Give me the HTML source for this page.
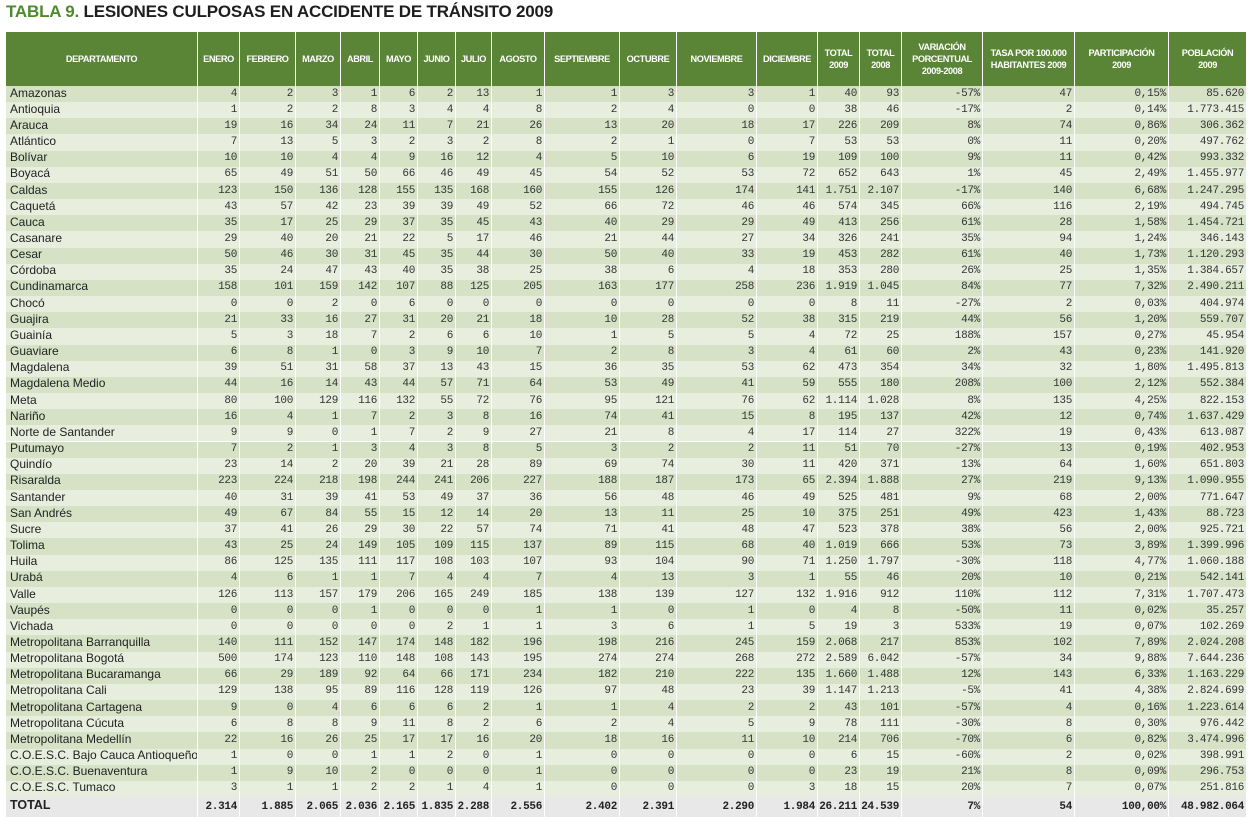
<!DOCTYPE html>
<html><head><meta charset="utf-8">
<style>
html,body{margin:0;padding:0;background:#fff;width:1251px;height:822px;overflow:hidden;font-family:"Liberation Sans",sans-serif;position:relative}
#title{position:absolute;left:6px;top:2px;font-size:17px;font-weight:bold;color:#1e1e1e;letter-spacing:-0.2px;white-space:nowrap}
#title span{color:#4f8a2e}
.row{position:absolute;left:6px;width:1241px;display:flex}
.c{box-sizing:border-box;border-right:1px solid #fff;display:flex;align-items:center;justify-content:flex-end;padding:0 2px;white-space:nowrap;overflow:hidden;font-family:"Liberation Mono",monospace;font-size:11px;letter-spacing:-0.3px;color:#333;line-height:1}
.c.n{justify-content:flex-start;font-family:"Liberation Sans",sans-serif;font-size:12px;letter-spacing:0;color:#222;padding-left:4px;padding-bottom:3px}
.hdr{top:32px;height:54px}
.hdr .c{background:#5a8536;color:#fff;font-family:"Liberation Sans",sans-serif;font-size:9.2px;font-weight:bold;letter-spacing:-0.4px;line-height:12px;justify-content:center;text-align:center;padding:0 1px;white-space:normal}
.o .c{background:#d6e1c6}
.e .c{background:#e7eedd}
.t .c{background:#e8e8e8;font-weight:bold;color:#222}
.t .c.n{font-size:12.5px}
</style></head><body>
<div id="title"><span>TABLA 9.</span> LESIONES CULPOSAS EN ACCIDENTE DE TRÁNSITO 2009</div>
<div id="tbl"></div>
<script>
const widths = [192,42,56,45,39,38,38,36,53,75,57,80,61,42,42,81,92,94,78];
const headers = ["DEPARTAMENTO","ENERO","FEBRERO","MARZO","ABRIL","MAYO","JUNIO","JULIO","AGOSTO","SEPTIEMBRE","OCTUBRE","NOVIEMBRE","DICIEMBRE","TOTAL<br>2009","TOTAL<br>2008","VARIACIÓN<br>PORCENTUAL<br>2009-2008","TASA POR 100.000<br>HABITANTES 2009","PARTICIPACIÓN<br>2009","POBLACIÓN<br>2009"];
const rows = [
"Amazonas|4 2 3 1 6 2 13 1 1 3 3 1 40 93 -57% 47 0,15% 85.620",
"Antioquia|1 2 2 8 3 4 4 8 2 4 0 0 38 46 -17% 2 0,14% 1.773.415",
"Arauca|19 16 34 24 11 7 21 26 13 20 18 17 226 209 8% 74 0,86% 306.362",
"Atlántico|7 13 5 3 2 3 2 8 2 1 0 7 53 53 0% 11 0,20% 497.762",
"Bolívar|10 10 4 4 9 16 12 4 5 10 6 19 109 100 9% 11 0,42% 993.332",
"Boyacá|65 49 51 50 66 46 49 45 54 52 53 72 652 643 1% 45 2,49% 1.455.977",
"Caldas|123 150 136 128 155 135 168 160 155 126 174 141 1.751 2.107 -17% 140 6,68% 1.247.295",
"Caquetá|43 57 42 23 39 39 49 52 66 72 46 46 574 345 66% 116 2,19% 494.745",
"Cauca|35 17 25 29 37 35 45 43 40 29 29 49 413 256 61% 28 1,58% 1.454.721",
"Casanare|29 40 20 21 22 5 17 46 21 44 27 34 326 241 35% 94 1,24% 346.143",
"Cesar|50 46 30 31 45 35 44 30 50 40 33 19 453 282 61% 40 1,73% 1.120.293",
"Córdoba|35 24 47 43 40 35 38 25 38 6 4 18 353 280 26% 25 1,35% 1.384.657",
"Cundinamarca|158 101 159 142 107 88 125 205 163 177 258 236 1.919 1.045 84% 77 7,32% 2.490.211",
"Chocó|0 0 2 0 6 0 0 0 0 0 0 0 8 11 -27% 2 0,03% 404.974",
"Guajira|21 33 16 27 31 20 21 18 10 28 52 38 315 219 44% 56 1,20% 559.707",
"Guainía|5 3 18 7 2 6 6 10 1 5 5 4 72 25 188% 157 0,27% 45.954",
"Guaviare|6 8 1 0 3 9 10 7 2 8 3 4 61 60 2% 43 0,23% 141.920",
"Magdalena|39 51 31 58 37 13 43 15 36 35 53 62 473 354 34% 32 1,80% 1.495.813",
"Magdalena Medio|44 16 14 43 44 57 71 64 53 49 41 59 555 180 208% 100 2,12% 552.384",
"Meta|80 100 129 116 132 55 72 76 95 121 76 62 1.114 1.028 8% 135 4,25% 822.153",
"Nariño|16 4 1 7 2 3 8 16 74 41 15 8 195 137 42% 12 0,74% 1.637.429",
"Norte de Santander|9 9 0 1 7 2 9 27 21 8 4 17 114 27 322% 19 0,43% 613.087",
"Putumayo|7 2 1 3 4 3 8 5 3 2 2 11 51 70 -27% 13 0,19% 402.953",
"Quindío|23 14 2 20 39 21 28 89 69 74 30 11 420 371 13% 64 1,60% 651.803",
"Risaralda|223 224 218 198 244 241 206 227 188 187 173 65 2.394 1.888 27% 219 9,13% 1.090.955",
"Santander|40 31 39 41 53 49 37 36 56 48 46 49 525 481 9% 68 2,00% 771.647",
"San Andrés|49 67 84 55 15 12 14 20 13 11 25 10 375 251 49% 423 1,43% 88.723",
"Sucre|37 41 26 29 30 22 57 74 71 41 48 47 523 378 38% 56 2,00% 925.721",
"Tolima|43 25 24 149 105 109 115 137 89 115 68 40 1.019 666 53% 73 3,89% 1.399.996",
"Huila|86 125 135 111 117 108 103 107 93 104 90 71 1.250 1.797 -30% 118 4,77% 1.060.188",
"Urabá|4 6 1 1 7 4 4 7 4 13 3 1 55 46 20% 10 0,21% 542.141",
"Valle|126 113 157 179 206 165 249 185 138 139 127 132 1.916 912 110% 112 7,31% 1.707.473",
"Vaupés|0 0 0 1 0 0 0 1 1 0 1 0 4 8 -50% 11 0,02% 35.257",
"Vichada|0 0 0 0 0 2 1 1 3 6 1 5 19 3 533% 19 0,07% 102.269",
"Metropolitana Barranquilla|140 111 152 147 174 148 182 196 198 216 245 159 2.068 217 853% 102 7,89% 2.024.208",
"Metropolitana Bogotá|500 174 123 110 148 108 143 195 274 274 268 272 2.589 6.042 -57% 34 9,88% 7.644.236",
"Metropolitana Bucaramanga|66 29 189 92 64 66 171 234 182 210 222 135 1.660 1.488 12% 143 6,33% 1.163.229",
"Metropolitana Cali|129 138 95 89 116 128 119 126 97 48 23 39 1.147 1.213 -5% 41 4,38% 2.824.699",
"Metropolitana Cartagena|9 0 4 6 6 6 2 1 1 4 2 2 43 101 -57% 4 0,16% 1.223.614",
"Metropolitana Cúcuta|6 8 8 9 11 8 2 6 2 4 5 9 78 111 -30% 8 0,30% 976.442",
"Metropolitana Medellín|22 16 26 25 17 17 16 20 18 16 11 10 214 706 -70% 6 0,82% 3.474.996",
"C.O.E.S.C. Bajo Cauca Antioqueño|1 0 0 1 1 2 0 1 0 0 0 0 6 15 -60% 2 0,02% 398.991",
"C.O.E.S.C. Buenaventura|1 9 10 2 0 0 0 1 0 0 0 0 23 19 21% 8 0,09% 296.753",
"C.O.E.S.C. Tumaco|3 1 1 2 2 1 4 1 0 0 0 3 18 15 20% 7 0,07% 251.816"
];
const totalRow = "TOTAL|2.314 1.885 2.065 2.036 2.165 1.835 2.288 2.556 2.402 2.391 2.290 1.984 26.211 24.539 7% 54 100,00% 48.982.064";
const tbl = document.getElementById('tbl');
function mkRow(cls, top, h){
  const r = document.createElement('div');
  r.className = 'row ' + cls;
  r.style.top = top + 'px';
  r.style.height = h + 'px';
  tbl.appendChild(r);
  return r;
}
function mkCell(r, i, cls){
  const c = document.createElement('div');
  c.className = 'c' + (cls ? ' ' + cls : '');
  c.style.width = widths[i] + 'px';
  r.appendChild(c);
  return c;
}
const hr = mkRow('hdr', 32, 54);


headers.forEach((h,i) => {
  const c = mkCell(hr, i);
  c.innerHTML = h;
  
  
});
function addRow(str, cls, top, h){
  const [name, vals] = str.split('|');
  const r = mkRow(cls, top, h);
  
  
  mkCell(r, 0, 'n').textContent = name;
  vals.split(' ').forEach((v,i) => { mkCell(r, i+1).textContent = v; });
}
const pitch = (797 - 86) / rows.length;
rows.forEach((s,i) => addRow(s, i % 2 === 0 ? 'o' : 'e', 86 + i*pitch, pitch));
addRow(totalRow, 't', 797, 20);
</script>
</body></html>
